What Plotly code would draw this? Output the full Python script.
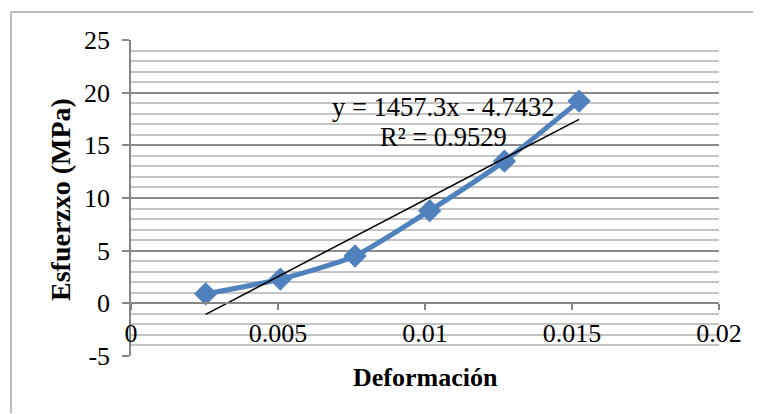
import plotly.graph_objects as go

# Data
deformacion = [0.00254, 0.00508, 0.00762, 0.01016, 0.0127, 0.01524]
esfuerzo = [0.9, 2.3, 4.5, 8.8, 13.5, 19.2]
slope = 1457.3
intercept = -4.7432
r2 = 0.9529
x_ticks = [0, 0.005, 0.01, 0.015, 0.02]
x_tick_labels = ["0", "0.005", "0.01", "0.015", "0.02"]
y_ticks = [-5, 0, 5, 10, 15, 20, 25]
y_tick_labels = ["-5", "0", "5", "10", "15", "20", "25"]

FONT = "Liberation Serif"
xr = [0, 0.02]
yr = [-5, 25]

trend_x = [deformacion[0], deformacion[-1]]
trend_y = [slope * v + intercept for v in trend_x]

# page body has an 8px margin; figure sized to fit the window
OFF = 8
PL, PR, PT, PB = 131, 719, 40, 356  # plot area in page px
W, H = 761 - OFF, 414 - OFF
PW, PH = PR - PL, PB - PT

def px(xp):
    return (xp - PL) / PW

def py(yp):
    return (PB - yp) / PH

fig = go.Figure()
fig.add_trace(go.Scatter(
    x=deformacion, y=esfuerzo, mode="lines+markers",
    line=dict(color="#4F81BD", width=5, shape="spline", smoothing=0.6),
    marker=dict(symbol="diamond", size=18, color="#4F81BD"),
    showlegend=False, hoverinfo="x+y"))
fig.add_trace(go.Scatter(
    x=trend_x, y=trend_y, mode="lines",
    line=dict(color="black", width=1.5), showlegend=False))

fig.update_layout(
    width=W, height=H,
    margin=dict(l=PL - OFF, r=W - (PR - OFF), t=PT - OFF, b=H - (PB - OFF), autoexpand=False),
    paper_bgcolor="white", plot_bgcolor="white",
    font=dict(family=FONT, size=26, color="black"),
    xaxis=dict(
        range=xr, tickvals=x_ticks, ticktext=x_tick_labels,
        anchor="free", position=(0 - yr[0]) / (yr[1] - yr[0]),
        showline=True, linecolor="#868686", linewidth=1.5,
        ticks="outside", ticklen=6, tickcolor="#868686", tickwidth=1.5,
        ticklabelstandoff=1,
        showgrid=False, zeroline=False,
        tickfont=dict(family=FONT, size=26),
    ),
    yaxis=dict(
        range=yr, tickvals=y_ticks, ticktext=y_tick_labels,
        showline=True, linecolor="#868686", linewidth=1.5,
        ticks="outside", ticklen=7, tickcolor="#868686", tickwidth=1.5,
        ticklabelstandoff=7,
        showgrid=True, gridcolor="#8c8c8c", gridwidth=1.5,
        zeroline=False,
        minor=dict(dtick=1, showgrid=True, gridcolor="#c4c4c4", gridwidth=1.5),
        tickfont=dict(family=FONT, size=26),
    ),
    annotations=[
        dict(xref="paper", yref="paper", x=px(443), y=py(107),
             text="y = 1457.3x - 4.7432", showarrow=False,
             font=dict(family=FONT, size=26.5), xanchor="center", yanchor="middle"),
        dict(xref="paper", yref="paper", x=px(443), y=py(137),
             text="R² = " + str(r2), showarrow=False,
             font=dict(family=FONT, size=26.5), xanchor="center", yanchor="middle"),
        dict(xref="paper", yref="paper", x=px(425), y=py(377),
             text="<b>Deformación</b>", showarrow=False,
             font=dict(family=FONT, size=26), xanchor="center", yanchor="middle"),
        dict(xref="paper", yref="paper", x=px(60), y=py(200),
             text="<b>Esfuerzxo (MPa)</b>", showarrow=False, textangle=-90,
             font=dict(family=FONT, size=28), xanchor="center", yanchor="middle"),
    ],
    shapes=[
        dict(type="line", xref="paper", yref="paper",
             x0=px(11), x1=px(760), y0=py(12), y1=py(12),
             line=dict(color="#a6a6a6", width=1.5)),
        dict(type="line", xref="paper", yref="paper",
             x0=px(11), x1=px(11), y0=py(12), y1=py(413),
             line=dict(color="#a6a6a6", width=1.5)),
    ],
)

fig.write_html("out.html")
